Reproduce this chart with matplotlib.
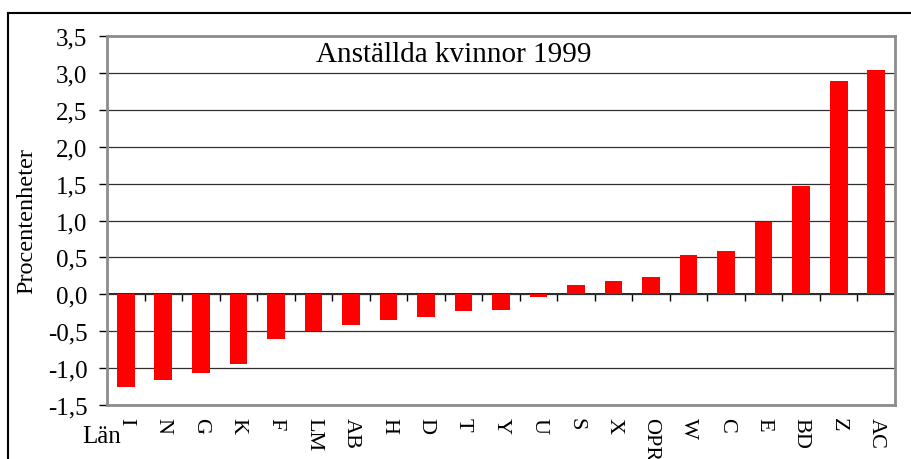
import matplotlib
matplotlib.use("Agg")
import matplotlib.pyplot as plt
from matplotlib.lines import Line2D
from matplotlib.ticker import FuncFormatter
import numpy as np

# data
lan = ["I", "N", "G", "K", "F", "LM", "AB", "H", "D", "T", "Y",
       "U", "S", "X", "OPR", "W", "C", "E", "BD", "Z", "AC"]
varden = [-1.25, -1.16, -1.07, -0.94, -0.60, -0.50, -0.41, -0.35, -0.31, -0.22, -0.21,
          -0.04, 0.12, 0.18, 0.24, 0.53, 0.58, 0.98, 1.47, 2.89, 3.04]
y_ticks = [-1.5, -1.0, -0.5, 0.0, 0.5, 1.0, 1.5, 2.0, 2.5, 3.0, 3.5]

plt.rcParams['font.family'] = ['Liberation Serif', 'DejaVu Serif']

fig = plt.figure(figsize=(9.12, 4.6), dpi=100)
ax = fig.add_axes([107/912, 1 - 406/460, 788/912, 369/460])

x = np.arange(len(lan))
ax.bar(x, varden, width=0.47, color="#ff0000", zorder=3)

ax.set_xlim(-0.5, len(lan) - 0.5)
ax.set_ylim(y_ticks[0], y_ticks[-1])

# gridlines
ax.set_yticks(y_ticks)
ax.yaxis.grid(True, color="#303030", lw=0.9)
ax.set_axisbelow(True)
ax.yaxis.set_major_formatter(FuncFormatter(lambda v, p: f"{v:.1f}".replace(".", ",")))
ax.tick_params(axis="y", direction="out", length=6, width=1, color="black",
               labelsize=18, pad=8)

# category labels at the bottom, rotated
ax.set_xticks(x)
ax.set_xticklabels(lan, rotation=270, fontsize=16)
ax.tick_params(axis="x", length=0, pad=9)

for s in ax.spines.values():
    s.set_color("#8c8c8c")
    s.set_linewidth(2)

# zero axis with category separators
zero_frac = (0 - y_ticks[0]) / (y_ticks[-1] - y_ticks[0])
sec = ax.secondary_xaxis(zero_frac)
sec.set_xticks(x[:-1] + 0.5)
sec.set_xticklabels([])
sec.tick_params(direction="out", length=5, width=1, color="black")
sec.spines["bottom"].set_color("black")
sec.spines["bottom"].set_linewidth(1.2)

ax.set_ylabel("Procentenheter", fontsize=17.5)
ax.yaxis.set_label_coords(-0.0888, 0.501)

ax.text(0.44, 0.951, "Anställda kvinnor 1999", transform=ax.transAxes,
        ha="center", va="center", fontsize=21)

fig.text(102/912, 1 - 437/460, "Län", ha="center", va="center", fontsize=18)

# outer chart border
fig.add_artist(Line2D([8.5/912, 8.5/912], [0, 1 - 14/460], color="black", lw=1.5,
                      transform=fig.transFigure))
fig.add_artist(Line2D([8.5/912, 1], [1 - 14/460, 1 - 14/460], color="black", lw=1.5,
                      transform=fig.transFigure))

fig.savefig("out.png", dpi=100, facecolor="white")
